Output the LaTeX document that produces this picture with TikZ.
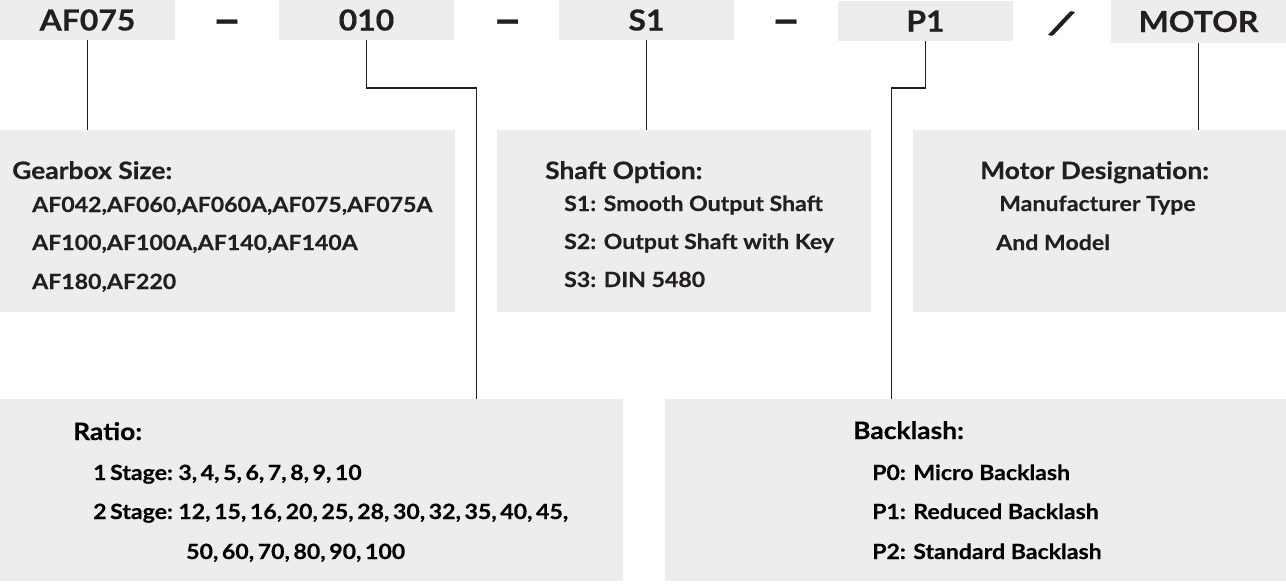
\documentclass[tikz,border=0pt]{standalone}
\usepackage{fontspec}
\setmainfont{Lato}[FakeStretch=1.1, BoldFeatures={FakeStretch=1.1, FakeBold=0.4}]
\definecolor{ink}{HTML}{231F20}
\definecolor{boxgray}{HTML}{EDEDED}
\newcommand{\numfontsetup}{\fontsize{21}{21}\selectfont\bfseries\spaceskip=0.17em plus 0.05em\relax}
\tikzset{
  topbox/.style={fill=boxgray, draw=none, inner sep=0pt, minimum width=175pt, minimum height=40pt,
    text height=21pt, text depth=0pt, font=\fontsize{29}{29}\selectfont\bfseries, text=ink},
  infobox/.style={fill=boxgray, draw=none, inner sep=0pt, minimum height=182pt},
  sep/.style={anchor=base, inner sep=0pt, font=\fontsize{46}{46}\selectfont\bfseries, text=ink},
  ttl/.style={anchor=base west, inner sep=0pt, font=\fontsize{24}{24}\selectfont\bfseries, text=ink},
  itm/.style={anchor=base west, inner sep=0pt, font=\fontsize{21}{21}\selectfont\bfseries, text=ink},
  numitm/.style={anchor=base west, inner sep=0pt, text=black, font=\numfontsetup},
  conn/.style={draw=ink, line width=1.2pt},
}
\begin{document}
\begin{tikzpicture}[x=1pt,y=-1pt]
\useasboundingbox (0,0) rectangle (1286,584);
% top code boxes
\node[topbox] (tAF) at (87.5,20) {AF075};
\node[topbox] (t010) at (366.5,20) {010};
\node[topbox] (tS1) at (646.5,20) {S1};
\node[topbox] (tP1) at (925.5,21) {P1};
\node[topbox, minimum height=43pt] (tMO) at (1198.5,21.5) {MOTOR};
\node[sep] (d1) at (227,35.5) {–};
\node[sep] (d2) at (507.5,35.5) {–};
\node[sep] (d3) at (786,35.5) {–};
\node[sep, anchor=center, rotate=-20, font=\fontsize{38}{38}\selectfont\bfseries] (sl) at (1061.5,23.5) {/};
% info boxes
\node[infobox, minimum width=455pt] (gbox) at (227.5,221) {};
\node[infobox, minimum width=374pt] (sbox) at (684,221) {};
\node[infobox, minimum width=373pt] (mbox) at (1099.5,221) {};
\node[infobox, minimum width=623pt] (rbox) at (311.5,490) {};
\node[infobox, minimum width=621pt] (bbox) at (975.5,490) {};
% texts
\node[ttl] (g0) at (12,179) {Gearbox Size:};
\node[itm] (g1) at (32,212) {AF042,AF060,AF060A,AF075,AF075A};
\node[itm] (g2) at (32,250) {AF100,AF100A,AF140,AF140A};
\node[itm] (g3) at (32,289) {AF180,AF220};
\node[ttl] (s0) at (545,179) {Shaft Option:};
\node[itm] (s1) at (564,211) {S1: Smooth Output Shaft};
\node[itm] (s2) at (564,249) {S2: Output Shaft with Key};
\node[itm] (s3) at (564,287) {S3: DIN 5480};
\node[ttl] (m0) at (980,179) {Motor Designation:};
\node[itm] (m1) at (999,211) {Manufacturer Type};
\node[itm] (m2) at (996,250) {And Model};
\node[ttl, text=black] (r0) at (73,440) {Ratio:};
\node[numitm] (r1) at (93,480) {1 Stage: 3, 4, 5, 6, 7, 8, 9, 10};
\node[numitm] (r2) at (93,519) {2 Stage: 12, 15, 16, 20, 25, 28, 30, 32, 35, 40, 45,};
\node[numitm] (r3) at (186,559) {50, 60, 70, 80, 90, 100};
\node[ttl, text=black] (b0) at (853,439) {Backlash:};
\node[itm, text=black] (b1) at (872,480) {P0: Micro Backlash};
\node[itm, text=black] (b2) at (872,519) {P1: Reduced Backlash};
\node[itm, text=black] (b3) at (872,559) {P2: Standard Backlash};
% connectors
\coordinate (k1) at (476.5,88);
\coordinate (k2) at (891.5,88);
\draw[conn] (tAF.south) -- (tAF.south |- gbox.north);
\draw[conn] (t010.south) |- (k1) -- (k1 |- rbox.north);
\draw[conn] (tS1.south) -- (tS1.south |- sbox.north);
\draw[conn] (tP1.south) |- (k2) -- (k2 |- bbox.north);
\draw[conn] (tMO.south) -- (tMO.south |- mbox.north);
\end{tikzpicture}
\end{document}
